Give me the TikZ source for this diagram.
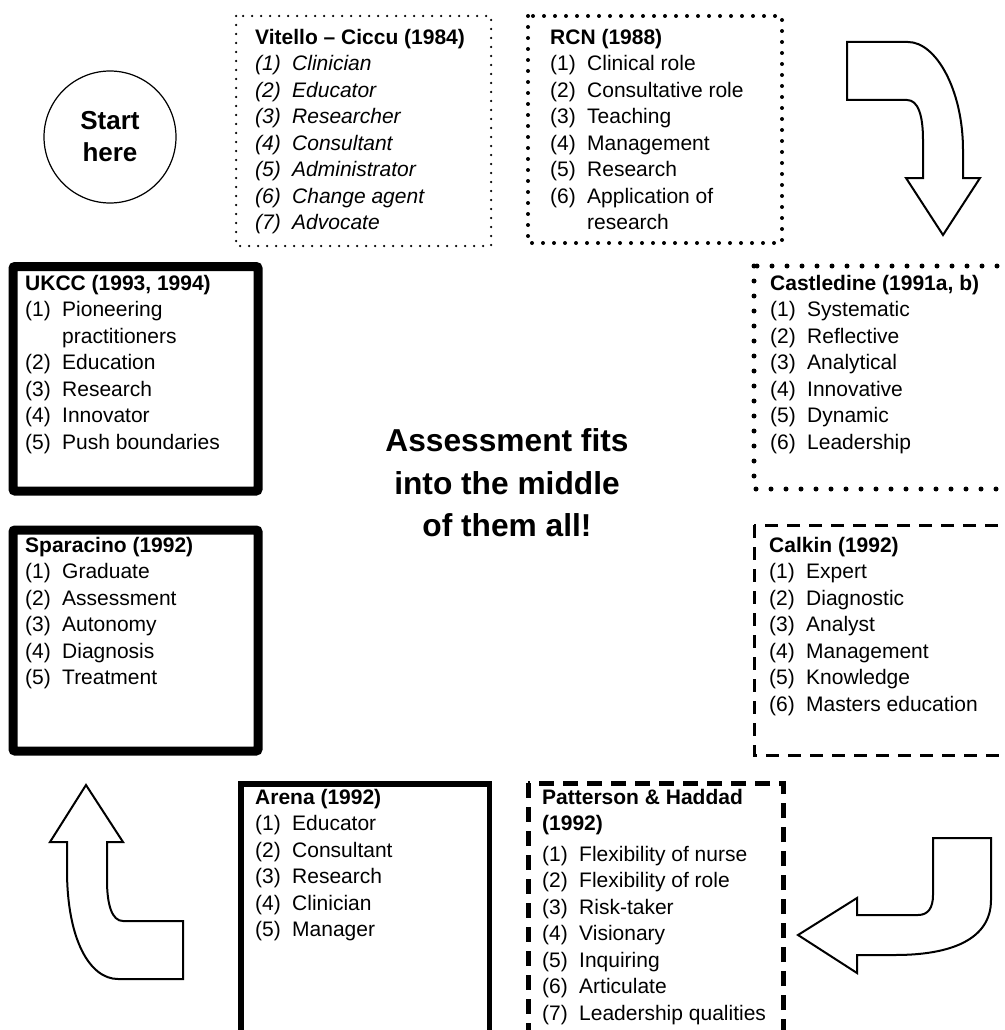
\documentclass[tikz,border=0pt]{standalone}
\usepackage{fontspec}
\setmainfont{Liberation Sans}

\newcommand{\roleitem}[2]{\makebox[37pt][l]{(#1)}#2}

\begin{document}
\begin{tikzpicture}[x=1pt,y=-1pt,
  listtxt/.style={font=\fontsize{21}{26.5}\selectfont,align=left,inner sep=0pt,anchor=north west},
  finedots/.style={line width=2.5pt,line cap=round,dash pattern=on 0pt off 9pt},
  middots/.style={line width=4pt,line cap=round,dash pattern=on 0pt off 11pt},
  bigdots/.style={line width=5pt,line cap=round,dash pattern=on 0pt off 15pt},
  thindash/.style={line width=3pt,dash pattern=on 13pt off 9pt},
  heavydash/.style={line width=5pt,dash pattern=on 15pt off 9pt},
  heavybox/.style={line width=9pt,rounded corners=2pt},
  solidbox/.style={line width=5.5pt},
  bendarrow/.style={draw,line width=2pt,fill=white}]
\clip (0,0) rectangle (1004,1030);

\node[circle,draw,line width=1.2pt,minimum size=132pt,align=center,
  font=\bfseries\fontsize{26}{32}\selectfont] (start) at (110,137) {Start\\here};

\draw[finedots] (236,16) rectangle (491,246);
\node[listtxt,font=\itshape\fontsize{21}{26.5}\selectfont] (vitello) at (255,29) {\textbf{\upshape Vitello -- Ciccu (1984)}\\
  \roleitem{1}{Clinician}\\ \roleitem{2}{Educator}\\ \roleitem{3}{Researcher}\\
  \roleitem{4}{Consultant}\\ \roleitem{5}{Administrator}\\ \roleitem{6}{Change agent}\\
  \roleitem{7}{Advocate}};

\draw[middots] (528,16) rectangle (782,243);
\node[listtxt] (rcn) at (550,29) {\textbf{RCN (1988)}\\
  \roleitem{1}{Clinical role}\\ \roleitem{2}{Consultative role}\\ \roleitem{3}{Teaching}\\
  \roleitem{4}{Management}\\ \roleitem{5}{Research}\\ \roleitem{6}{Application of}\\
  \hspace*{37pt}research};

\draw[bigdots] (754,266) rectangle (1020,489);
\node[listtxt] (castledine) at (770,275) {\textbf{Castledine (1991a, b)}\\
  \roleitem{1}{Systematic}\\ \roleitem{2}{Reflective}\\ \roleitem{3}{Analytical}\\
  \roleitem{4}{Innovative}\\ \roleitem{5}{Dynamic}\\ \roleitem{6}{Leadership}};

\draw[thindash] (754,525) rectangle (1020,755);
\node[listtxt] (calkin) at (769,537) {\textbf{Calkin (1992)}\\
  \roleitem{1}{Expert}\\ \roleitem{2}{Diagnostic}\\ \roleitem{3}{Analyst}\\
  \roleitem{4}{Management}\\ \roleitem{5}{Knowledge}\\ \roleitem{6}{Masters education}};

\draw[heavydash] (528,783) rectangle (783,1045);
\node[listtxt] (patterson) at (542,789) {\textbf{Patterson \& Haddad}\\ \textbf{(1992)}\\[4pt]
  \roleitem{1}{Flexibility of nurse}\\ \roleitem{2}{Flexibility of role}\\ \roleitem{3}{Risk-taker}\\
  \roleitem{4}{Visionary}\\ \roleitem{5}{Inquiring}\\ \roleitem{6}{Articulate}\\
  \roleitem{7}{Leadership qualities}};

\draw[solidbox] (241,784) rectangle (489.5,1045);
\node[listtxt] (arena) at (255,789) {\textbf{Arena (1992)}\\
  \roleitem{1}{Educator}\\ \roleitem{2}{Consultant}\\ \roleitem{3}{Research}\\
  \roleitem{4}{Clinician}\\ \roleitem{5}{Manager}};

\draw[heavybox] (13,530) rectangle (258,751);
\node[listtxt] (sparacino) at (25,537) {\textbf{Sparacino (1992)}\\
  \roleitem{1}{Graduate}\\ \roleitem{2}{Assessment}\\ \roleitem{3}{Autonomy}\\
  \roleitem{4}{Diagnosis}\\ \roleitem{5}{Treatment}};

\draw[heavybox] (13,266.5) rectangle (258,491);
\node[listtxt] (ukcc) at (25,275) {\textbf{UKCC (1993, 1994)}\\
  \roleitem{1}{Pioneering}\\ \hspace*{37pt}practitioners\\ \roleitem{2}{Education}\\
  \roleitem{3}{Research}\\ \roleitem{4}{Innovator}\\ \roleitem{5}{Push boundaries}};

\node[align=center,font=\bfseries\fontsize{31.7}{42.5}\selectfont] (middle) at (507,483)
  {Assessment fits\\into the middle\\of them all!};

% turning arrows
\draw[bendarrow] (847,42) -- (908,42) .. controls (936,42) and (963,90) .. (963,150)
  -- (963,178) -- (980,178) -- (943,235) -- (906,178) -- (923,178) -- (923,140)
  .. controls (923,115) and (918,100) .. (907,100) -- (847,100) -- cycle;
\draw[bendarrow] (991,838) -- (991,900) .. controls (991,940) and (950,955) .. (895,955)
  -- (857,955) -- (857,973) -- (798,935) -- (857,898) -- (857,915) -- (918,915)
  .. controls (928,915) and (933,908) .. (933,895) -- (933,838) -- cycle;
\draw[bendarrow] (183,979) -- (118,979) .. controls (90,979) and (67,940) .. (67,870)
  -- (67,842) -- (50,842) -- (86,785) -- (123,842) -- (107,842) -- (107,880)
  .. controls (107,905) and (112,921) .. (123,921) -- (183,921) -- cycle;
\end{tikzpicture}
\end{document}
